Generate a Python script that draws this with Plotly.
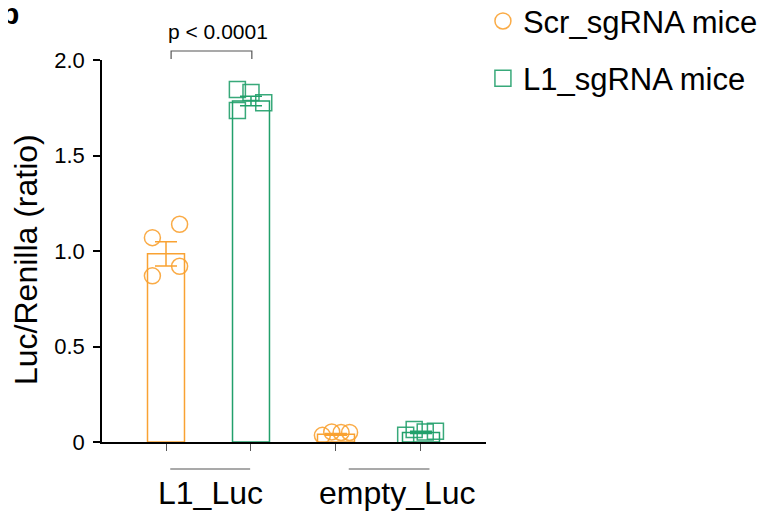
import plotly.graph_objects as go

groups = ["L1_Luc", "empty_Luc"]
series = ["Scr_sgRNA mice", "L1_sgRNA mice"]
colors = ["#F9A232", "#22A06B"]
symbols = ["circle-open", "square-open"]

# means and SEM per series, per group
means = {"Scr_sgRNA mice": [0.985, 0.040], "L1_sgRNA mice": [1.785, 0.050]}
sems = {"Scr_sgRNA mice": [0.063, 0.005], "L1_sgRNA mice": [0.025, 0.006]}
# individual points per series, per group
points = {
    "Scr_sgRNA mice": [[1.07, 1.14, 0.92, 0.87], [0.035, 0.053, 0.050, 0.050]],
    "L1_sgRNA mice": [[1.845, 1.83, 1.776, 1.735], [0.035, 0.065, 0.053, 0.056]],
}
jitter = {
    "Scr_sgRNA mice": [[-0.16, 0.16, 0.16, -0.16], [-0.16, -0.05, 0.06, 0.16]],
    "L1_sgRNA mice": [[-0.16, 0.0, 0.15, -0.16], [-0.18, -0.08, 0.05, 0.17]],
}
y_ticks = [0, 0.5, 1.0, 1.5, 2.0]
y_tick_text = ["0", "0.5", "1.0", "1.5", "2.0"]
y_title = "Luc/Renilla (ratio)"
p_text = "p < 0.0001"

FONT = "Liberation Sans, Arial, Helvetica, sans-serif"
fig = go.Figure()
n_s = len(series)
for si, s in enumerate(series):
    xs = [gi * n_s + si for gi in range(len(groups))]
    fig.add_trace(go.Bar(
        x=xs, y=means[s], width=0.435,
        marker=dict(color="rgba(255,255,255,0)", line=dict(color=colors[si], width=1.5)),
        error_y=dict(type="data", array=sems[s], color=colors[si], thickness=1.5, width=11),
        showlegend=False, hoverinfo="skip",
    ))
for si, s in enumerate(series):
    px, py = [], []
    for gi in range(len(groups)):
        for v, j in zip(points[s][gi], jitter[s][gi]):
            px.append(gi * n_s + si + j)
            py.append(v)
    fig.add_trace(go.Scatter(
        x=px, y=py, mode="markers", name=s, legendgroup=s,
        marker=dict(symbol=symbols[si], size=16, color=colors[si], opacity=0.9,
                    line=dict(width=1.5, color=colors[si])),
    ))

# group underlines and labels
line_spans = [(0.05, 0.99), (2.15, 3.10)]
label_x = [0.52, 2.72]
for gi, g in enumerate(groups):
    fig.add_shape(type="line", xref="x", yref="paper", x0=line_spans[gi][0], x1=line_spans[gi][1],
                  y0=-0.0707, y1=-0.0707, line=dict(color="#555555", width=1.2))
    fig.add_annotation(x=label_x[gi], xref="x", y=-0.133, yref="paper", text=g,
                       showarrow=False, font=dict(size=32, color="black", family=FONT),
                       xanchor="center", yanchor="middle")

# y axis title
fig.add_annotation(x=-0.198, xref="paper", y=0.479, yref="paper", text=y_title, textangle=-90,
                   showarrow=False, font=dict(size=32, color="black", family=FONT),
                   xanchor="center", yanchor="middle")

# significance bracket
by0, by1 = 1.0026, 1.0236
fig.add_shape(type="path", xref="x", yref="paper",
              path=f"M 0.06 {by0} L 0.06 {by1} L 1.01 {by1} L 1.01 {by0}",
              line=dict(color="#555555", width=1.2))
fig.add_annotation(x=0.61, xref="x", y=1.075, yref="paper", text=p_text, showarrow=False,
                   font=dict(size=21, color="black", family=FONT), xanchor="center", yanchor="middle")

# panel letter
fig.add_annotation(x=-0.212, xref="paper", y=1.073, yref="paper", text="<b>b</b>", showarrow=False,
                   font=dict(size=30, color="black", family=FONT), xanchor="right", yanchor="bottom")

fig.update_layout(
    width=767, height=512,
    margin=dict(l=94, r=289, t=52, b=78, autoexpand=False),
    plot_bgcolor="white", paper_bgcolor="white",
    font=dict(family=FONT, color="black"),
    barmode="overlay",
    legend=dict(x=0.992, xref="paper", y=1.172, yanchor="top", xanchor="left",
                font=dict(size=31, family=FONT), tracegroupgap=14, itemwidth=30,
                traceorder="grouped"),
    xaxis=dict(range=[-0.753, 3.765], showgrid=False, zeroline=False, showline=True,
               linecolor="black", linewidth=1.5, ticks="outside", ticklen=7, tickwidth=1.2,
               tickcolor="#555555", tickvals=[0, 1, 2, 3], showticklabels=False),
    yaxis=dict(range=[0, 2.0], showgrid=False, zeroline=False, showline=True,
               linecolor="black", linewidth=1.5, ticks="outside", ticklen=7, tickwidth=1.5,
               tickcolor="black", tickvals=y_ticks, ticktext=y_tick_text,
               tickfont=dict(size=22, family=FONT), ticklabelstandoff=4),
)
fig.write_html("out.html")
